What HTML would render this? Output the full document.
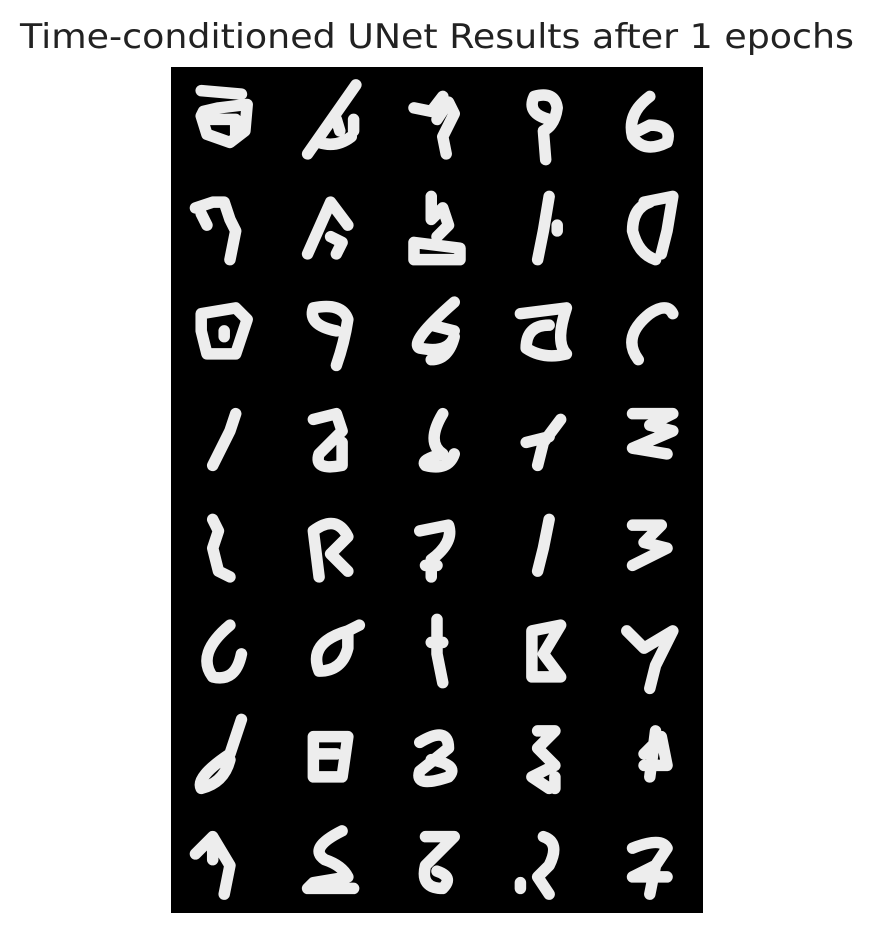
<!DOCTYPE html>
<html><head><meta charset="utf-8"><style>
html,body{margin:0;padding:0;background:#fff;width:870px;height:926px;overflow:hidden}
svg{display:block}
</style></head><body>
<svg width="870" height="926">
<text x="437" y="48" text-anchor="middle" textLength="834" lengthAdjust="spacingAndGlyphs" font-family="DejaVu Sans, Liberation Sans, sans-serif" font-size="34" fill="#222">Time-conditioned UNet Results after 1 epochs</text>
<rect x="171" y="67" width="532" height="846" fill="#000"/>
<g id="glyphs" fill="none" stroke="#ededed" stroke-width="10" stroke-linecap="round" stroke-linejoin="round"></g>
</svg>
<script>
const cols = 5, rows = 8;
const glyphPaths = [
"M-20,-30 L15,-27 M-18,-12 L-5,-15 L20,-18 L18,5 L5,15 L-15,8 L-20,-8 Z M-12,-5 L10,-5 L10,8",
"M22,-35 L-20,25 M-10,15 Q5,20 18,10 M5,-5 L8,5 M20,-5 L20,5",
"M-20,-15 L-5,-12 L5,-25 L0,-5 L10,-20 L15,-10 L5,10 L8,25",
"M5,-5 Q-15,-10 -8,-25 Q10,-30 12,-15 Q10,0 0,5 L2,30",
"M0,-25 Q-20,-10 -15,10 Q-5,25 15,15 Q20,0 0,0 L-10,5",
"M-25,-20 L-10,-25 L0,-25 L5,-10 L10,0 L5,25 M-20,-15 L-15,-5",
"M-20,20 L0,-25 L15,-5 M0,5 L10,10 L5,20",
"M-5,-30 L-5,-10 L5,-20 L10,-5 L0,5 M-20,10 L20,15 L20,25 L-20,25 Z",
"M5,-30 L0,0 L-5,25 M12,-5 L12,0",
"M0,-25 Q-15,-20 -15,0 Q-10,20 5,25 M-5,-25 L20,-30 L15,0 L10,20",
"M-20,-20 L10,-25 L20,-15 L10,15 L-15,15 L-20,-5 Z M0,-5 L0,0",
"M5,-5 Q-20,-10 -15,-25 Q10,-30 15,-15 Q12,5 5,25",
"M15,-30 Q-25,5 -15,10 Q10,15 15,0 Q10,20 -5,20 M-5,-10 L15,-5",
"M-20,-20 L20,-25 Q10,5 20,15 Q0,20 -15,10 Q-15,-10 5,-10",
"M0,-20 Q-25,0 -10,20 M0,-20 Q15,-30 20,-20",
"M10,-25 L5,-10 L-10,20",
"M-15,-20 L5,-25 L10,-10 L-10,10 Q-15,25 10,20 L10,0",
"M5,-25 Q-10,0 5,10 Q-15,15 -10,20 Q10,25 15,10",
"M15,-20 L0,0 L-5,20 M-15,0 L5,-5",
"M-15,-25 L20,-25 L0,-15 L20,-10 L-15,5 L15,10",
"M-10,-25 L-5,-15 L-10,0 L-5,20 L5,25",
"M-10,25 L-15,-15 Q5,-30 15,-10 L0,5 L15,20",
"M-15,-15 L10,-20 Q15,-5 -5,10 L-5,25 M-10,15 L0,15",
"M5,-25 L0,0 L-5,20",
"M-15,-20 L10,-20 L-5,-5 L15,0 L-15,15",
"M5,-25 Q-25,0 -10,20 Q10,25 15,0",
"M15,-20 Q-20,-10 -10,15 Q10,15 15,-5 L15,-20 L25,-25",
"M0,-30 L0,0 L5,25 M5,-10 L-5,-10",
"M-10,-20 L15,-25 L0,0 L15,20 L-10,20 Z",
"M-20,-20 L-5,-5 L20,-20 L10,0 L5,10 L0,30",
"M15,-35 L5,-5 Q-25,15 -20,25 Q0,20 5,0",
"M-15,-20 L15,-20 L10,15 L-15,15 Z M-10,-5 L5,-5",
"M-15,-15 Q10,-30 10,-10 L-15,10 Q-20,25 10,15 Q20,5 -5,0",
"M-5,-25 L10,-25 L-5,-10 L10,5 L-10,15 L5,25 M10,15 L10,25",
"M5,-25 L0,15 M-5,-5 L10,-20 L15,5 L-5,5",
"M-25,-10 L-10,-25 L5,0 L0,25 M-10,-25 L-10,-5",
"M10,-30 Q-20,-15 -5,-5 Q10,0 15,10 L-15,15 L-20,20 L20,20",
"M-10,-25 L15,-25 L-10,0 Q-15,20 5,20 Q15,10 0,5",
"M-20,15 L-20,20 M0,-25 Q15,-20 5,0 L-5,10 L5,25",
"M-15,-15 Q10,-25 15,-15 L5,0 L-15,10 M5,0 L0,25 M-15,10 L15,10"
];
const g = document.getElementById('glyphs');
const x0 = 171, y0 = 67, cw = 532 / cols, ch = 846 / rows;
glyphPaths.forEach((d, i) => {
  const c = i % cols, r = Math.floor(i / cols);
  const p = document.createElementNS('http://www.w3.org/2000/svg', 'path');
  p.setAttribute('d', d);
  p.setAttribute('transform', `translate(${x0 + cw * (c + 0.5)},${y0 + ch * (r + 0.55)}) scale(1.15)`);
  
  
  g.appendChild(p);
});
</script>
</body></html>
